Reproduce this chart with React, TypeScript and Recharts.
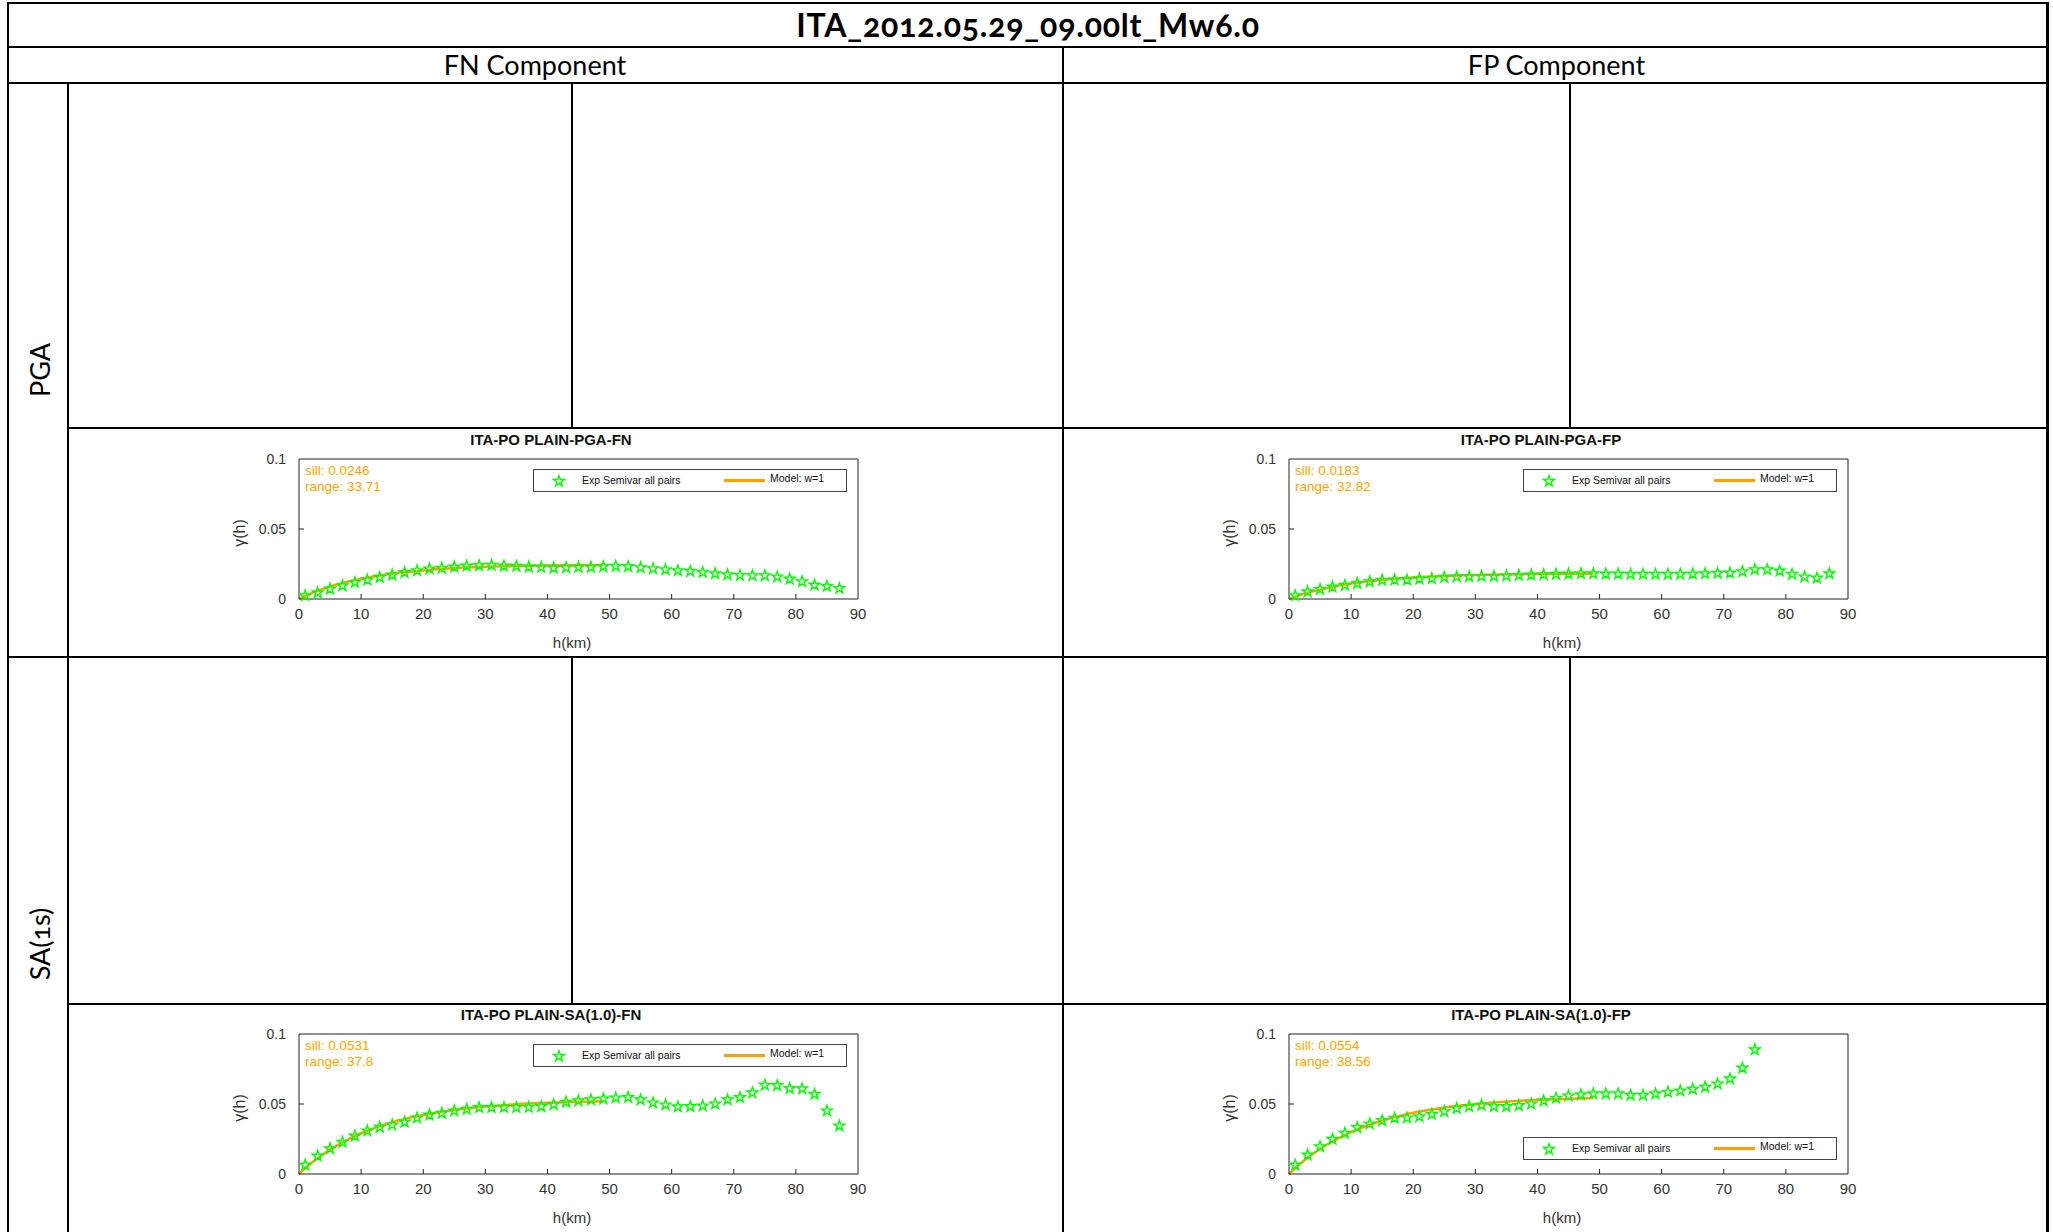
import React from 'react';
import { ComposedChart, Scatter, Line, XAxis, YAxis, Legend } from 'recharts';

// lag distances of the experimental semivariogram (km)
const lagKm = [
  1, 3, 5, 7, 9, 11, 13, 15, 17, 19, 21, 23, 25, 27, 29, 31, 33, 35, 37, 39, 41, 43,
  45, 47, 49, 51, 53, 55, 57, 59, 61, 63, 65, 67, 69, 71, 73, 75, 77, 79, 81, 83, 85, 87,
];

const pgaFnExp = [
  0.0024, 0.0045, 0.0072, 0.0095, 0.0119, 0.0136, 0.0155, 0.0172, 0.0189, 0.0203, 0.0215,
  0.022, 0.0229, 0.0236, 0.0239, 0.0241, 0.0236, 0.0234, 0.0229, 0.0227, 0.0222, 0.0224,
  0.0227, 0.0227, 0.0232, 0.0234, 0.0232, 0.0224, 0.0217, 0.021, 0.0203, 0.0198, 0.0191,
  0.0181, 0.0174, 0.0169, 0.0167, 0.0167, 0.0158, 0.0143, 0.0124, 0.01, 0.0091, 0.0076,
];

const pgaFpExp = [
  0.0024, 0.0052, 0.0069, 0.0086, 0.0098, 0.0112, 0.0124, 0.0134, 0.0136, 0.0136, 0.0143,
  0.0146, 0.0155, 0.0158, 0.016, 0.0162, 0.0162, 0.0165, 0.0169, 0.0172, 0.0174, 0.0177,
  0.0179, 0.0181, 0.0181, 0.0179, 0.0179, 0.0177, 0.0177, 0.0177, 0.0177, 0.0177, 0.0179,
  0.0181, 0.0184, 0.0186, 0.0196, 0.021, 0.021, 0.02, 0.0177, 0.0158, 0.015, 0.0181,
];

const saFnExp = [
  0.0064, 0.0129, 0.0181, 0.0227, 0.0272, 0.0308, 0.0334, 0.0351, 0.0372, 0.0401, 0.0422,
  0.0434, 0.0451, 0.0463, 0.0475, 0.0475, 0.0475, 0.0475, 0.0477, 0.0482, 0.0496, 0.0513,
  0.0523, 0.053, 0.0537, 0.0544, 0.0547, 0.053, 0.0508, 0.0494, 0.048, 0.0482, 0.0487,
  0.0501, 0.053, 0.0547, 0.058, 0.0635, 0.0632, 0.0611, 0.0609, 0.057, 0.0451, 0.0344,
];

// SA(1.0)-FP stops at 75 km
const saFpExp = [
  0.0064, 0.0136, 0.0196, 0.0248, 0.0291, 0.0332, 0.0358, 0.0382, 0.0399, 0.0401, 0.041,
  0.0427, 0.0446, 0.0468, 0.0482, 0.0492, 0.0482, 0.0482, 0.0489, 0.0501, 0.0523, 0.0542,
  0.0558, 0.0566, 0.0573, 0.0573, 0.0573, 0.0563, 0.0563, 0.0573, 0.0585, 0.0594, 0.0606,
  0.0621, 0.0644, 0.068, 0.0757, 0.0888,
];

// fitted model curve
const modelKm = [0, 2, 4, 6, 8, 10, 12, 14, 16, 18, 20, 24, 28, 32, 36, 40, 44, 49];
const pgaFnModel = [0, 0.004, 0.0074, 0.0102, 0.0125, 0.0145, 0.0161, 0.0175, 0.0187, 0.0196, 0.0204, 0.0217, 0.0226, 0.0232, 0.0236, 0.0239, 0.0241, 0.0243];
const pgaFpModel = [0, 0.0031, 0.0056, 0.0077, 0.0095, 0.011, 0.0122, 0.0132, 0.0141, 0.0148, 0.0154, 0.0163, 0.0169, 0.0173, 0.0176, 0.0178, 0.018, 0.0181];
const saFnModel = [0, 0.0078, 0.0145, 0.0201, 0.025, 0.0291, 0.0326, 0.0356, 0.0382, 0.0404, 0.0422, 0.0452, 0.0474, 0.0489, 0.0501, 0.0509, 0.0515, 0.052];
const saFpModel = [0, 0.008, 0.0148, 0.0207, 0.0256, 0.03, 0.0336, 0.0367, 0.0394, 0.0417, 0.0437, 0.0468, 0.0491, 0.0508, 0.052, 0.0529, 0.0536, 0.0542];

const xTicks = [0, 10, 20, 30, 40, 50, 60, 70, 80, 90];
const yTicks = [0, 0.05, 0.1];

const pageTitle = 'ITA_2012.05.29_09.00lt_Mw6.0';
const columnTitles = ['FN Component', 'FP Component'];
const rowTitles = ['PGA', 'SA(1s)'];

const ARIAL = '"Liberation Sans", Arial, sans-serif';
const HUMANIST = 'Lato, "Open Sans", sans-serif';
const GREEN = '#00ff00';
const ORANGE = '#ffa000';
const AXIS = '#222';

const toPoints = (xs: number[], ys: number[]) => ys.map((y, i) => ({ x: xs[i], y }));

const panels = [
  { id: 'pga-fn', title: 'ITA-PO PLAIN-PGA-FN', sill: 'sill: 0.0246', range: 'range: 33.71', exp: pgaFnExp, model: pgaFnModel, dx: 0, dy: 0, legendBottom: false },
  { id: 'pga-fp', title: 'ITA-PO PLAIN-PGA-FP', sill: 'sill: 0.0183', range: 'range: 32.82', exp: pgaFpExp, model: pgaFpModel, dx: 990, dy: 0, legendBottom: false },
  { id: 'sa-fn', title: 'ITA-PO PLAIN-SA(1.0)-FN', sill: 'sill: 0.0531', range: 'range: 37.8', exp: saFnExp, model: saFnModel, dx: 0, dy: 575, legendBottom: false },
  { id: 'sa-fp', title: 'ITA-PO PLAIN-SA(1.0)-FP', sill: 'sill: 0.0554', range: 'range: 38.56', exp: saFpExp, model: saFpModel, dx: 990, dy: 575, legendBottom: true },
];

function starPath(cx: number, cy: number, R: number) {
  const r = R * 0.382;
  let d = '';
  for (let i = 0; i < 10; i++) {
    const rad = i % 2 === 0 ? R : r;
    const a = -Math.PI / 2 + (i * Math.PI) / 5;
    d += (i === 0 ? 'M' : 'L') + (cx + rad * Math.cos(a)).toFixed(2) + ',' + (cy + rad * Math.sin(a)).toFixed(2);
  }
  return d + 'Z';
}

const StarDot = (props: any) => {
  const { cx, cy } = props;
  if (cx == null || cy == null) return null;
  return <path d={starPath(cx, cy, 5.6)} fill="none" stroke={GREEN} strokeWidth={1.4} />;
};

const BottomTick = ({ x, y, payload }: any) => (
  <g>
    {payload.value > 0 && payload.value < 90 && <line x1={x} x2={x} y1={y} y2={y - 5} stroke={AXIS} />}
    <text x={x} y={y + 20} textAnchor="middle" fontSize={15} fill="#333" fontFamily={ARIAL}>
      {payload.value}
    </text>
  </g>
);

const TopTick = ({ x, y, payload }: any) =>
  payload.value > 0 && payload.value < 90 ? <line x1={x} x2={x} y1={y} y2={y + 5} stroke={AXIS} /> : <g />;

const LeftTick = ({ x, y, payload }: any) => (
  <g>
    {payload.value > 0 && payload.value < 0.1 && <line x1={x} x2={x + 5} y1={y} y2={y} stroke={AXIS} />}
    <text x={x - 13} y={y + 5} textAnchor="end" fontSize={14} fill="#333" fontFamily={ARIAL}>
      {payload.value}
    </text>
  </g>
);

const RightTick = ({ x, y, payload }: any) =>
  payload.value > 0 && payload.value < 0.1 ? <line x1={x} x2={x - 5} y1={y} y2={y} stroke={AXIS} /> : <g />;

const LegendBox = () => (
  <div
    style={{
      position: 'relative',
      width: 314,
      height: 23,
      border: '1px solid #444',
      boxSizing: 'border-box',
      background: '#fff',
      fontFamily: ARIAL,
      fontSize: 10.5,
      color: '#111',
    }}
  >
    <svg width={14} height={14} style={{ position: 'absolute', left: 18, top: 4 }}>
      <path d={starPath(7, 7.3, 5.6)} fill="none" stroke={GREEN} strokeWidth={1.4} />
    </svg>
    <span style={{ position: 'absolute', left: 48, top: 4, whiteSpace: 'nowrap' }}>Exp Semivar all pairs</span>
    <div style={{ position: 'absolute', left: 190, top: 9, width: 41, height: 2.5, background: ORANGE }} />
    <span style={{ position: 'absolute', left: 236, top: 2, whiteSpace: 'nowrap' }}>Model: w=1</span>
  </div>
);

// chart box of the top-left panel, in page pixels
const BOX_L = 299;
const BOX_T = 459;
const BOX_W = 559;
const BOX_H = 140;
const PAD_L = 70;
const PAD_T = 10;
const PAD_R = 20;
const PAD_B = 60;

const Variogram = ({ p }: { p: (typeof panels)[number] }) => {
  const left = BOX_L - PAD_L + p.dx;
  const top = BOX_T - PAD_T + p.dy;
  const expData = toPoints(lagKm, p.exp);
  const modelData = toPoints(modelKm, p.model);
  return (
    <>
      <div
        style={{
          position: 'absolute',
          left: 551 - 200 + p.dx,
          top: 431 + p.dy,
          width: 400,
          textAlign: 'center',
          fontFamily: ARIAL,
          fontWeight: 'bold',
          fontSize: 15,
          lineHeight: '18px',
          color: '#111',
        }}
      >
        {p.title}
      </div>
      <div style={{ position: 'absolute', left, top }}>
        <ComposedChart width={PAD_L + BOX_W + PAD_R} height={PAD_T + BOX_H + PAD_B} margin={{ top: 0, right: 0, bottom: 0, left: 0 }}>
          <XAxis
            xAxisId={0}
            type="number"
            dataKey="x"
            domain={[0, 90]}
            ticks={xTicks}
            interval={0}
            height={PAD_B}
            tickSize={0}
            tickMargin={0}
            tickLine={false}
            axisLine={{ stroke: AXIS }}
            tick={<BottomTick />}
          />
          <XAxis
            xAxisId="top"
            orientation="top"
            type="number"
            domain={[0, 90]}
            ticks={xTicks}
            interval={0}
            height={PAD_T}
            tickSize={0}
            tickMargin={0}
            tickLine={false}
            axisLine={{ stroke: AXIS }}
            tick={<TopTick />}
          />
          <YAxis
            yAxisId={0}
            type="number"
            dataKey="y"
            domain={[0, 0.1]}
            ticks={yTicks}
            interval={0}
            width={PAD_L}
            tickSize={0}
            tickMargin={0}
            tickLine={false}
            axisLine={{ stroke: AXIS }}
            tick={<LeftTick />}
          />
          <YAxis
            yAxisId="right"
            orientation="right"
            type="number"
            domain={[0, 0.1]}
            ticks={yTicks}
            interval={0}
            width={PAD_R}
            tickSize={0}
            tickMargin={0}
            tickLine={false}
            axisLine={{ stroke: AXIS }}
            tick={<RightTick />}
          />
          <Legend
            layout="horizontal"
            verticalAlign="middle"
            align="center"
            wrapperStyle={{ left: 304, top: p.legendBottom ? 113 : 20, width: 314, height: 23 }}
            content={() => <LegendBox />}
          />
          <Scatter name="Exp Semivar all pairs" data={expData} shape={<StarDot />} isAnimationActive={false} />
          <Line
            name="Model: w=1"
            data={modelData}
            dataKey="y"
            type="monotone"
            stroke={ORANGE}
            strokeWidth={2.5}
            dot={false}
            activeDot={false}
            isAnimationActive={false}
          />
        </ComposedChart>
      </div>
      <div
        style={{
          position: 'absolute',
          left: 305 + p.dx,
          top: 463 + p.dy,
          fontFamily: ARIAL,
          fontSize: 13.5,
          lineHeight: '15.5px',
          color: '#ffa500',
          whiteSpace: 'nowrap',
        }}
      >
        <div>{p.sill}</div>
        <div>{p.range}</div>
      </div>
      <div
        style={{
          position: 'absolute',
          left: 240 - 40 + p.dx,
          top: 533 - 10 + p.dy,
          width: 80,
          height: 20,
          lineHeight: '20px',
          textAlign: 'center',
          transform: 'rotate(-90deg)',
          fontFamily: ARIAL,
          fontSize: 16,
          color: '#333',
        }}
      >
        γ(h)
      </div>
      <div
        style={{
          position: 'absolute',
          left: 572 - 50 + p.dx,
          top: 643 - 10 + p.dy,
          width: 100,
          lineHeight: '20px',
          textAlign: 'center',
          fontFamily: ARIAL,
          fontSize: 15,
          color: '#333',
        }}
      >
        h(km)
      </div>
    </>
  );
};

const rule = (left: number, top: number, width: number, height: number) => (
  <div style={{ position: 'absolute', left, top, width, height, background: '#000' }} />
);

export default function App() {
  return (
    <div style={{ position: 'relative', width: 2053, height: 1232, overflow: 'hidden', background: '#fff' }}>
      <style>{'body{margin:0}'}</style>
      {/* table frame */}
      {rule(7, 2, 2042, 2)}
      {rule(7, 2, 2, 1230)}
      {rule(2046, 2, 3, 1230)}
      {rule(7, 46, 2042, 2)}
      {rule(7, 82, 2042, 2)}
      {rule(67, 83, 2, 1149)}
      {rule(1062, 47, 2, 1185)}
      {rule(571, 83, 2, 345)}
      {rule(1569, 83, 2, 345)}
      {rule(571, 657, 2, 347)}
      {rule(1569, 657, 2, 347)}
      {rule(68, 427, 1981, 2)}
      {rule(7, 656, 2042, 2)}
      {rule(68, 1003, 1981, 2)}

      <div
        style={{
          position: 'absolute',
          left: 7,
          top: 4,
          width: 2042,
          height: 42,
          lineHeight: '42px',
          textAlign: 'center',
          fontFamily: HUMANIST,
          fontWeight: 'bold',
          fontSize: 32,
          letterSpacing: 0.8,
          fontVariantNumeric: 'oldstyle-nums',
          color: '#000',
        }}
      >
        {pageTitle}
      </div>
      {columnTitles.map((t, i) => (
        <div
          key={t}
          style={{
            position: 'absolute',
            left: i === 0 ? 7 : 1064,
            top: 48,
            width: i === 0 ? 1056 : 985,
            height: 34,
            lineHeight: '34px',
            textAlign: 'center',
            fontFamily: HUMANIST,
            fontSize: 27,
            color: '#000',
          }}
        >
          {t}
        </div>
      ))}
      {rowTitles.map((t, i) => (
        <div
          key={t}
          style={{
            position: 'absolute',
            left: 40 - 100,
            top: (i === 0 ? 370 : 944) - 20,
            width: 200,
            height: 40,
            lineHeight: '40px',
            textAlign: 'center',
            transform: 'rotate(-90deg)',
            fontFamily: HUMANIST,
            fontSize: 27,
            fontVariantNumeric: 'oldstyle-nums',
            color: '#000',
          }}
        >
          {t}
        </div>
      ))}

      {panels.map((p) => (
        <Variogram key={p.id} p={p} />
      ))}
    </div>
  );
}
